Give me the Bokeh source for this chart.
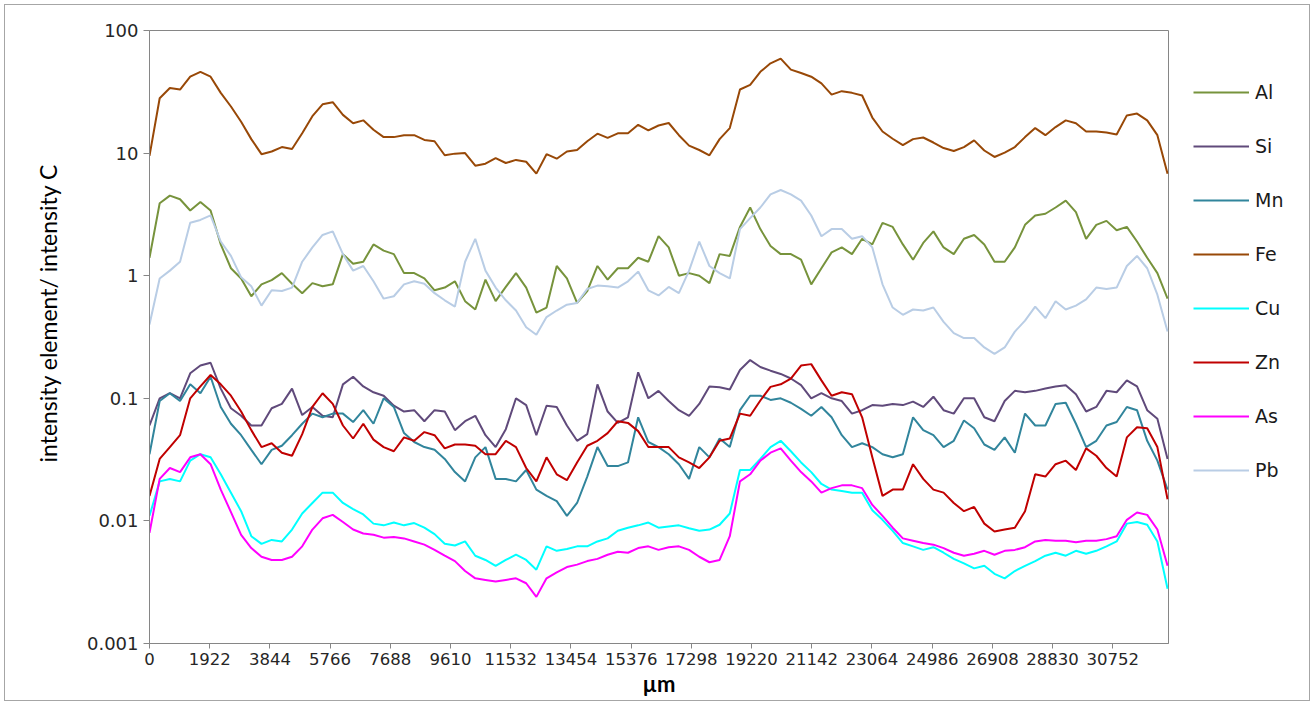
from bokeh.plotting import figure
from bokeh.layouts import row
from bokeh.models import (FixedTicker, CustomJSTickFormatter, Legend, LegendItem,
                          Range1d, Title)
from bokeh.embed import file_html
from bokeh.resources import INLINE

# Scan positions along the profile (µm), one reading every 325 µm
step_um = 325
position_um = [i * step_um for i in range(101)]

# Element / carbon intensity ratios along the scan
al = [1.4, 3.9, 4.5, 4.2, 3.4, 4.0, 3.4, 1.8, 1.15, 0.95,
      0.68, 0.85, 0.92, 1.05, 0.86, 0.72, 0.87, 0.82, 0.85, 1.5,
      1.25, 1.3, 1.8, 1.6, 1.5, 1.05, 1.05, 0.95, 0.76, 0.8,
      0.9, 0.62, 0.53, 0.93, 0.62, 0.81, 1.05, 0.8, 0.5, 0.55,
      1.2, 0.95, 0.6, 0.75, 1.2, 0.93, 1.15, 1.15, 1.4, 1.3,
      2.1, 1.7, 1.0, 1.05, 1.0, 0.87, 1.5, 1.45, 2.5, 3.6,
      2.4, 1.75, 1.5, 1.5, 1.35, 0.85, 1.15, 1.55, 1.7, 1.5,
      2.0, 1.8, 2.7, 2.5, 1.8, 1.35, 1.85, 2.3, 1.7, 1.5,
      2.0, 2.15, 1.8, 1.3, 1.3, 1.7, 2.6, 3.1, 3.2, 3.6,
      4.1, 3.3, 2.0, 2.6, 2.8, 2.35, 2.5, 1.9, 1.4, 1.05,
      0.65]

si = [0.06, 0.1, 0.11, 0.1, 0.16, 0.185, 0.195, 0.12, 0.083, 0.072,
      0.06, 0.06, 0.083, 0.09, 0.12, 0.073, 0.085, 0.072, 0.07, 0.13,
      0.15, 0.125, 0.112, 0.105, 0.087, 0.078, 0.08, 0.065, 0.08, 0.078,
      0.055, 0.065, 0.072, 0.05, 0.04, 0.056, 0.1, 0.088, 0.05, 0.087,
      0.085, 0.06, 0.045, 0.051, 0.13, 0.078, 0.063, 0.07, 0.163, 0.1,
      0.115, 0.095, 0.08, 0.072, 0.09, 0.125, 0.123, 0.118, 0.17, 0.205,
      0.18, 0.168, 0.158, 0.145, 0.128, 0.1, 0.11, 0.1, 0.095, 0.075,
      0.08, 0.088, 0.087, 0.09, 0.088, 0.094, 0.085, 0.103, 0.08, 0.075,
      0.1, 0.1, 0.07, 0.065, 0.095, 0.115, 0.112, 0.115, 0.12, 0.125,
      0.128, 0.108, 0.078, 0.085, 0.115, 0.112, 0.14, 0.125, 0.08, 0.068,
      0.032]

mn = [0.035, 0.095, 0.11, 0.095, 0.13, 0.11, 0.15, 0.085, 0.062, 0.05,
      0.038, 0.029, 0.038, 0.041, 0.05, 0.062, 0.075, 0.07, 0.075, 0.075,
      0.064, 0.08, 0.062, 0.1, 0.085, 0.052, 0.044, 0.04, 0.038, 0.032,
      0.025, 0.021, 0.033, 0.04, 0.022, 0.022, 0.021, 0.026, 0.018, 0.016,
      0.0145, 0.011, 0.014, 0.023, 0.04, 0.028, 0.028, 0.03, 0.07, 0.044,
      0.04, 0.035, 0.029, 0.022, 0.04, 0.033, 0.047, 0.04, 0.08, 0.105,
      0.105, 0.097, 0.1, 0.092, 0.082, 0.072, 0.085, 0.07, 0.05, 0.04,
      0.043, 0.04, 0.035, 0.033, 0.035, 0.07, 0.055, 0.05, 0.04, 0.045,
      0.066, 0.057, 0.042, 0.038, 0.048, 0.036, 0.075, 0.06, 0.06, 0.09,
      0.092, 0.062, 0.04, 0.045, 0.06, 0.064, 0.085, 0.08, 0.045, 0.031,
      0.018]

fe = [9.5, 28, 34, 33, 42, 46, 42, 31, 24, 18,
      13, 9.8, 10.3, 11.2, 10.8, 14.5, 20, 25, 26, 20.5,
      17.5, 18.5, 15.5, 13.5, 13.5, 14, 14, 12.8, 12.5, 9.6,
      9.9, 10, 7.9, 8.2, 9.1, 8.3, 8.8, 8.5, 6.8, 9.8,
      9.0, 10.3, 10.6, 12.5, 14.4, 13.3, 14.5, 14.5, 17, 15.3,
      16.8, 17.6, 14, 11.5, 10.6, 9.6, 13, 16, 33, 36,
      46, 54, 59, 48, 45, 42, 37, 30, 32, 31,
      29.5, 19.5, 15, 13.1, 11.6, 13, 13.4, 12.2, 11, 10.4,
      11.2, 12.7, 10.5, 9.3, 10.1, 11.2, 13.5, 16, 14, 16.3,
      18.5, 17.5, 15, 15, 14.7, 14.2, 20.3, 21, 18.5, 14,
      6.8]

cu = [0.011, 0.021, 0.022, 0.021, 0.031, 0.035, 0.033, 0.024, 0.017, 0.012,
      0.0075, 0.0065, 0.007, 0.0068, 0.0085, 0.0115, 0.014, 0.017, 0.017, 0.014,
      0.0125, 0.0113, 0.0095, 0.0092, 0.0097, 0.0092, 0.0096, 0.0088, 0.0078, 0.0065,
      0.0063, 0.0068, 0.0052, 0.0048, 0.0043, 0.0048, 0.0053, 0.0048, 0.004, 0.0062,
      0.0057, 0.0059, 0.0062, 0.0062, 0.0068, 0.0072, 0.0083, 0.0088, 0.0092, 0.0097,
      0.0088, 0.009, 0.0092, 0.0087, 0.0083, 0.0085, 0.0093, 0.0115, 0.026, 0.026,
      0.032, 0.04, 0.045, 0.037, 0.03, 0.025, 0.02, 0.018, 0.0175, 0.017,
      0.017, 0.0122, 0.0102, 0.0083, 0.0066, 0.0062, 0.0058, 0.0061, 0.0055, 0.0049,
      0.0045, 0.0041, 0.0043, 0.0037, 0.0034, 0.0039, 0.0043, 0.0047, 0.0052, 0.0055,
      0.0052, 0.0057, 0.0054, 0.0057, 0.0062, 0.0068, 0.0095, 0.0098, 0.0093, 0.0068,
      0.0028]

zn = [0.016, 0.032, 0.04, 0.05, 0.1, 0.125, 0.155, 0.13, 0.105, 0.078,
      0.055, 0.04, 0.043, 0.036, 0.034, 0.051, 0.085, 0.11, 0.09, 0.06,
      0.047, 0.062, 0.046, 0.04, 0.037, 0.048, 0.045, 0.053, 0.05, 0.039,
      0.042, 0.042, 0.041, 0.035, 0.035, 0.045, 0.04, 0.027, 0.021, 0.033,
      0.024, 0.0215, 0.03, 0.041, 0.045, 0.052, 0.065, 0.063, 0.054, 0.04,
      0.04, 0.04, 0.033, 0.03, 0.027, 0.033, 0.045, 0.047, 0.075, 0.072,
      0.096, 0.124, 0.13, 0.145, 0.185, 0.19, 0.14, 0.105, 0.112, 0.108,
      0.07, 0.033, 0.016, 0.018, 0.018, 0.029, 0.022, 0.018, 0.017, 0.014,
      0.012, 0.013, 0.0095, 0.0082, 0.0085, 0.0088, 0.012, 0.024, 0.023, 0.029,
      0.031, 0.026, 0.039, 0.034, 0.027, 0.023, 0.048, 0.058, 0.057, 0.04,
      0.015]

as_ = [0.008, 0.022, 0.027, 0.025, 0.033, 0.035, 0.029, 0.018, 0.0118, 0.0077,
       0.006, 0.0051, 0.0048, 0.0048, 0.0051, 0.0062, 0.0085, 0.0105, 0.0112, 0.0098,
       0.0085, 0.0079, 0.0077, 0.0073, 0.0074, 0.0072, 0.0068, 0.0064, 0.0058, 0.0052,
       0.0047, 0.0039, 0.0034, 0.0033, 0.0032, 0.0033, 0.0034, 0.0031, 0.0024, 0.0034,
       0.0038, 0.0042, 0.0044, 0.0047, 0.0049, 0.0053, 0.0056, 0.0055, 0.006, 0.0062,
       0.0058, 0.0061, 0.0062, 0.0058, 0.0051, 0.0046, 0.0048, 0.0075, 0.021, 0.024,
       0.031, 0.036, 0.039, 0.031, 0.025, 0.021, 0.017, 0.0185, 0.0195, 0.0195,
       0.0185, 0.0135, 0.011, 0.0088, 0.0072, 0.0069, 0.0066, 0.0064, 0.006, 0.0055,
       0.0052, 0.0054, 0.0057, 0.0053, 0.0057, 0.0058, 0.0061, 0.0068, 0.007, 0.0069,
       0.0069, 0.0067, 0.0069, 0.0069, 0.0071, 0.0075, 0.0102, 0.0117, 0.0112, 0.0085,
       0.0043]

pb = [0.4, 0.95, 1.1, 1.3, 2.7, 2.85, 3.1, 1.9, 1.45, 0.97,
      0.82, 0.57, 0.76, 0.75, 0.8, 1.3, 1.7, 2.15, 2.3, 1.5,
      1.1, 1.2, 0.9, 0.65, 0.68, 0.85, 0.9, 0.86, 0.72, 0.63,
      0.56, 1.3, 2.0, 1.1, 0.8, 0.63, 0.52, 0.38, 0.33, 0.46,
      0.52, 0.58, 0.6, 0.78, 0.83, 0.82, 0.8, 0.9, 1.08, 0.76,
      0.69, 0.81, 0.72, 1.1, 1.9, 1.2, 1.05, 0.95, 2.4, 2.95,
      3.6, 4.6, 5.0, 4.6, 4.1, 3.1, 2.1, 2.4, 2.4, 2.0,
      2.1, 1.7, 0.85, 0.55, 0.48, 0.53, 0.52, 0.55, 0.42, 0.34,
      0.31, 0.31, 0.26, 0.23, 0.26, 0.35, 0.43, 0.56, 0.45, 0.62,
      0.53, 0.57, 0.64, 0.8, 0.78, 0.8, 1.2, 1.45, 1.15, 0.7,
      0.35]

element_names = ["Al", "Si", "Mn", "Fe", "Cu", "Zn", "As", "Pb"]
element_values = [al, si, mn, fe, cu, zn, as_, pb]
element_colors = ["#77933C", "#604A7B", "#31859C", "#984807",
                  "#00FFFF", "#C00000", "#FF00FF", "#B9CDE5"]

x_ticks = [0, 1922, 3844, 5766, 7688, 9610, 11532, 13454, 15376, 17298,
           19220, 21142, 23064, 24986, 26908, 28830, 30752]
y_ticks = [0.001, 0.01, 0.1, 1, 10, 100]

LINE_W = 2

# ---- main chart -------------------------------------------------------------
p = figure(width=1164, height=695, y_axis_type="log",
           x_range=Range1d(0, 32530), y_range=Range1d(0.001, 100),
           output_backend="svg", toolbar_location=None,
           min_border_left=144, min_border_right=1,
           min_border_top=25, min_border_bottom=57)

p.xgrid.visible = False
p.ygrid.visible = False
p.outline_line_color = "#868686"
p.outline_line_width = 1
p.background_fill_color = "white"
p.border_fill_color = "white"

# x axis
p.xaxis.ticker = FixedTicker(ticks=x_ticks)
p.xaxis.axis_line_color = "#868686"
p.xaxis.major_tick_line_color = "#868686"
p.xaxis.major_tick_out = 5
p.xaxis.major_tick_in = 0
p.xaxis.minor_tick_line_color = None
p.xaxis.major_label_text_font = "DejaVu Sans"
p.xaxis.major_label_text_font_size = "16.5px"
p.xaxis.major_label_text_color = "#262626"
p.xaxis.major_label_standoff = 4
p.xaxis.axis_label = "µm"
p.xaxis.axis_label_text_font = "Lato"
p.xaxis.axis_label_text_font_style = "bold"
p.xaxis.axis_label_text_font_size = "22px"
p.xaxis.axis_label_text_color = "#000000"
p.xaxis.axis_label_standoff = 2

# y axis
p.yaxis.ticker = FixedTicker(ticks=y_ticks)
p.yaxis.formatter = CustomJSTickFormatter(code="return tick.toString();")
p.yaxis.axis_line_color = "#868686"
p.yaxis.major_tick_line_color = "#868686"
p.yaxis.major_tick_out = 6
p.yaxis.major_tick_in = 0
p.yaxis.minor_tick_line_color = None
p.yaxis.major_label_text_font = "DejaVu Sans"
p.yaxis.major_label_text_font_size = "18px"
p.yaxis.major_label_text_color = "#262626"
p.yaxis.major_label_standoff = 5

# y-axis title, starting a little above the frame's bottom edge
p.add_layout(Title(text="intensity element/ intensity C", align="left",
                   offset=181, standoff=43, text_font="Lato",
                   text_font_size="23px", text_font_style="normal",
                   text_color="#000000"), "left")

for vals, color in zip(element_values, element_colors):
    p.line(position_um, vals, line_color=color, line_width=LINE_W)

# ---- legend column ----------------------------------------------------------
key = figure(width=140, height=695, output_backend="svg",
             toolbar_location=None, x_range=Range1d(0, 1),
             y_range=Range1d(0, 1), min_border=0)
key.axis.visible = False
key.grid.visible = False
key.outline_line_color = None
key.border_fill_color = "white"

# key-only line renderers: a single undefined point, so nothing is drawn in
# the frame but each one still gets its swatch in the legend
nan = float("nan")
items = []
for name, color in zip(element_names, element_colors):
    r = key.line([nan], [nan], line_color=color, line_width=LINE_W)
    items.append(LegendItem(label=name, renderers=[r]))

legend = Legend(items=items, location=(24, 162), orientation="vertical",
                glyph_width=56, glyph_height=20, label_height=20,
                spacing=32, padding=0, margin=0, label_standoff=6,
                border_line_alpha=0, background_fill_alpha=0,
                label_text_font="DejaVu Sans", label_text_font_size="19px",
                label_text_color="#1a1a1a")
key.add_layout(legend, "center")

chart = row(p, key, spacing=0)
chart.styles = {"margin-left": "4px", "margin-top": "4px",
                "border": "1px solid #a6a6a6"}

open("out.html", "w").write(file_html(chart, INLINE))
